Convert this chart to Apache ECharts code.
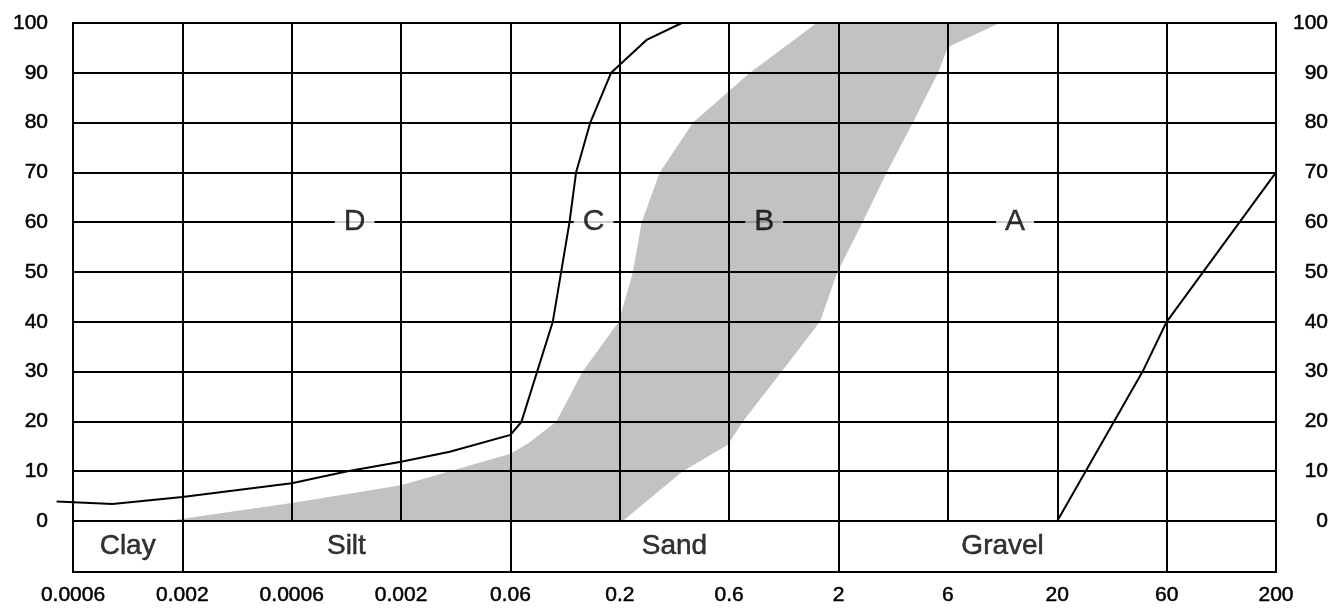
<!DOCTYPE html>
<html>
<head>
<meta charset="utf-8">
<style>
html,body{margin:0;padding:0;background:#fff;}
#chart{width:1334px;height:611px;}
</style>
<script src="https://cdn.jsdelivr.net/npm/echarts@6/dist/echarts.min.js"></script>
</head>
<body>
<div id="chart"></div>
<script>
// ---- data (x = position index along the grain-size axis, y = percent passing) ----
const tickLabels = ['0.0006','0.002','0.0006','0.002','0.06','0.2','0.6','2','6','20','60','200'];
const yTicks = [0,10,20,30,40,50,60,70,80,90,100];
const curveC = [[-0.15,3.9],[0.36,3.4],[1.0,4.8],[2.0,7.6],[2.51,10.0],[3.0,11.9],[3.445,13.9],[4.0,17.3],[4.10,19.9],[4.387,40],[4.54,60],[4.6,70],[4.73,80],[4.92,90],[5.245,96.6],[5.567,100]];
const curveA = [[9,0],[9.78,30],[10,40],[11,70]];
const bandUpper = [[0.855,0],[2.0,3.6],[3.0,7.2],[3.445,10.0],[4.0,13.5],[4.176,15.8],[4.42,20],[4.66,30],[4.99,40],[5.12,50],[5.2,60],[5.365,70],[5.67,80],[6.19,90],[6.8,100]];
const bandLower = [[5.027,0],[5.576,10],[5.988,15.3],[6.125,20],[6.48,30],[6.83,40],[6.99,50],[7.22,60],[7.44,70],[7.68,80],[7.91,90],[8.0,95.2],[8.475,100]];
const curveNames = ['D','C','B','A'];
const curveNameX = [2.575,4.76,6.32,8.614];
const curveNameY = 60;
const soilNames = ['Clay','Silt','Sand','Gravel'];
const soilCenters = [0.5,2.5,5.5,8.5];
const soilDividers = [1,4,7,10];

const FONT = 'Liberation Sans, Arial, Helvetica, sans-serif';
const BAND = '#c2c2c2';
const bandPoly = bandUpper.concat(bandLower.slice().reverse());
const TXT = {color:'#000', fontFamily:FONT, textBorderColor:'#000', textBorderWidth:0.5};

const chart = echarts.init(document.getElementById('chart'), null, {renderer:'canvas'});
const option = {
  animation:false,
  backgroundColor:'#fff',
  grid:[
    {left:73, right:58, top:23, height:498, show:true, borderColor:'#000', borderWidth:2, backgroundColor:'transparent', z:3},
    {left:73, right:58, top:521, height:51, show:true, borderColor:'#000', borderWidth:2, backgroundColor:'transparent', z:3}
  ],
  xAxis:[
    {type:'value', gridIndex:0, min:0, max:11, interval:1, z:3,
     axisLine:{show:false}, axisTick:{show:false}, axisLabel:{show:false},
     splitLine:{show:true, lineStyle:{color:'#000', width:2}}},
    {type:'value', gridIndex:1, min:0, max:11, interval:1, z:3,
     axisLine:{show:false}, axisTick:{show:false}, splitLine:{show:false},
     axisLabel:Object.assign({show:true, margin:13, fontSize:21,
       formatter:function(v){ const i=Math.round(v); return tickLabels[i]!==undefined?tickLabels[i]:''; }}, TXT)}
  ],
  yAxis:[
    {type:'value', gridIndex:0, min:0, max:100, interval:10, z:3,
     axisLine:{show:false}, axisTick:{show:false},
     axisLabel:Object.assign({show:true, margin:25, fontSize:21}, TXT),
     splitLine:{show:true, lineStyle:{color:'#000', width:2}}},
    {type:'value', gridIndex:0, position:'right', min:0, max:100, interval:10, z:3,
     axisLine:{show:false}, axisTick:{show:false}, splitLine:{show:false},
     axisLabel:Object.assign({show:true, margin:52, align:'right', fontSize:21}, TXT)},
    {type:'value', gridIndex:1, min:0, max:1, show:false}
  ],
  series:[
    {type:'custom', xAxisIndex:0, yAxisIndex:0, z:1, silent:true, clip:false,
     data:[0],
     renderItem:function(params, api){
       const pts = bandPoly.map(p => api.coord(p));
       return {type:'polygon', shape:{points:pts}, style:{fill:BAND, stroke:null}};
     }},
    {type:'custom', xAxisIndex:0, yAxisIndex:0, z:10, silent:true, clip:false,
     data:[0],
     renderItem:function(params, api){
       const pts = curveC.map(p => api.coord(p));
       return {type:'polyline', shape:{points:pts}, style:{fill:null, stroke:'#000', lineWidth:2}};
     }},
    {type:'line', xAxisIndex:0, yAxisIndex:0, data:curveA, showSymbol:false, symbol:'none', z:10,
     lineStyle:{color:'#000', width:2}},
    {type:'scatter', xAxisIndex:0, yAxisIndex:0, symbolSize:1, z:12, silent:true,
     itemStyle:{color:'rgba(0,0,0,0)'},
     data:curveNames.map((n,i)=>({value:[curveNameX[i], curveNameY], name:n,
       label:{backgroundColor:(n==='B'?BAND:'#fff')}})),
     label:{show:true, position:'inside', formatter:p=>p.name, fontSize:30, color:'#000', fontFamily:FONT,
       textBorderColor:'#000', textBorderWidth:0.4, padding:[2,9,0,9], lineHeight:30}},
    {type:'scatter', xAxisIndex:1, yAxisIndex:2, symbolSize:1, z:12, silent:true,
     itemStyle:{color:'rgba(0,0,0,0)'},
     data:soilNames.map((n,i)=>({value:[soilCenters[i],0.5], name:n})),
     label:Object.assign({show:true, position:'inside', formatter:p=>p.name, fontSize:28}, TXT),
     markLine:{silent:true, symbol:['none','none'], label:{show:false},
       lineStyle:{color:'#000', width:2, type:'solid'},
       data:soilDividers.map(v=>({xAxis:v}))}}
  ]
};
chart.setOption(option);
</script>
</body>
</html>
